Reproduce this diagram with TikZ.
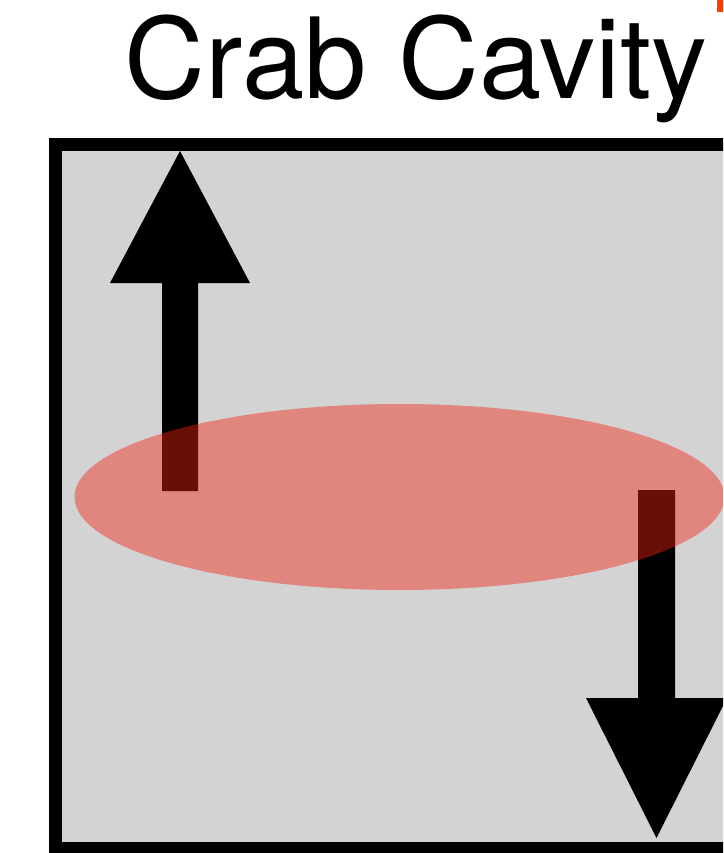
\documentclass[tikz,border=0pt]{standalone}
\usepackage{fontspec}
\setmainfont{TeX Gyre Heros}
\definecolor{cavgray}{RGB}{211,211,211}
\definecolor{bunchred}{RGB}{241,36,18}
\definecolor{markred}{RGB}{255,60,0}
\begin{document}
\begin{tikzpicture}[x=1pt,y=-1pt]
\useasboundingbox (0,0) rectangle (723,853);
\clip (0,0) rectangle (723,853);
\fill[markred] (717,-5) rectangle (730,12.5);
\node[anchor=base, inner sep=0pt, font=\fontsize{112}{112}\selectfont] (title) at (416,99) {Crab Cavity};
\draw[line width=13pt, fill=cavgray] (55.5,144.5) rectangle (800,848.5);
\fill (162,491) -- (162,283) -- (110,283) -- (180,151) -- (250,283) -- (198,283) -- (198,491) -- cycle;
\fill (638,490) -- (638,698) -- (586,698) -- (656.5,838) -- (727,698) -- (675,698) -- (675,490) -- cycle;
\fill[bunchred, opacity=0.44] (399.5,497) ellipse [x radius=325, y radius=93];
\end{tikzpicture}
\end{document}
